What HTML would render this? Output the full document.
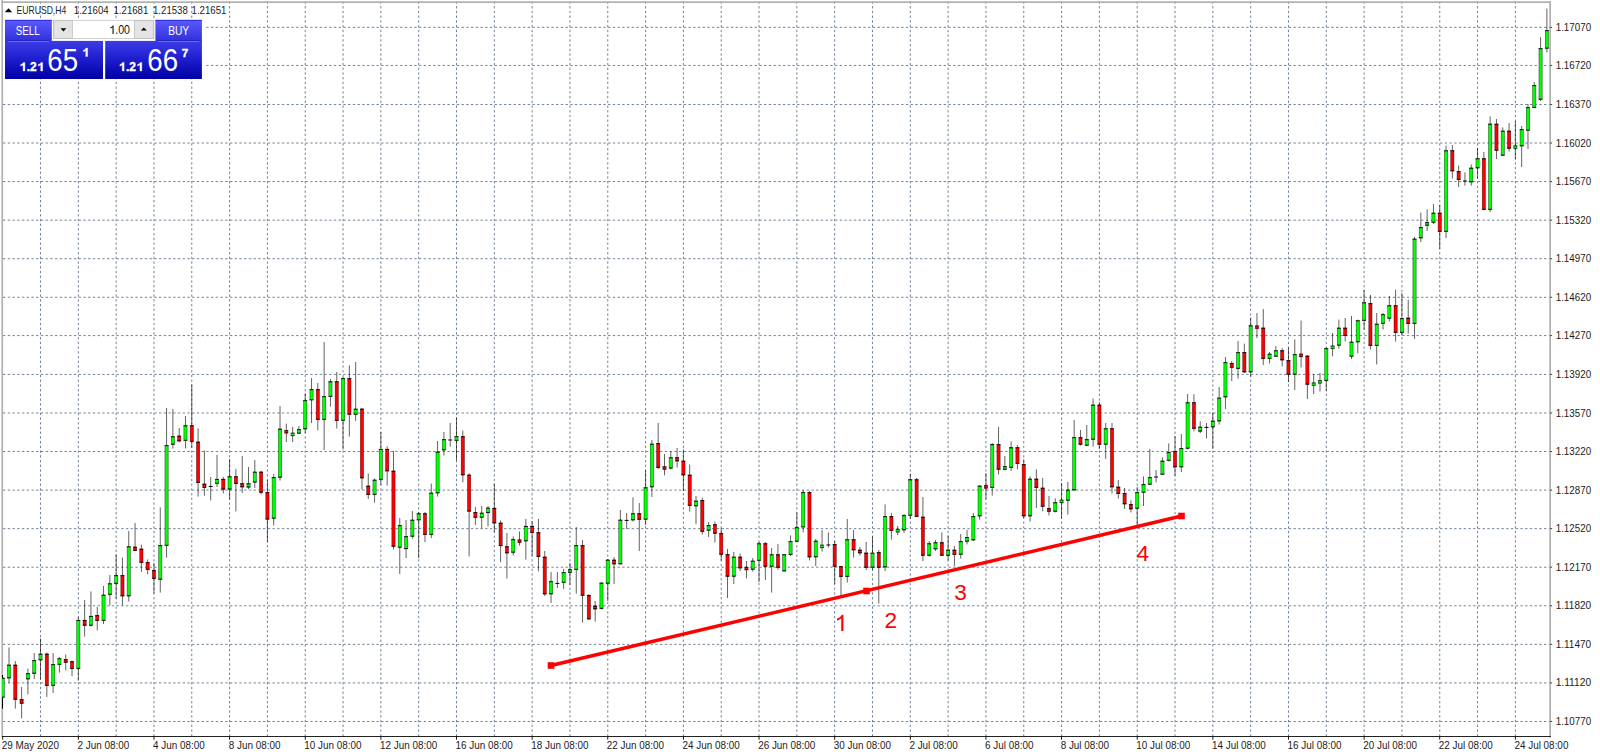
<!DOCTYPE html>
<html lang="en"><head><meta charset="utf-8"><title>EURUSD,H4</title>
<style>html,body{margin:0;padding:0;background:#fff;overflow:hidden}svg{display:block}text{font-family:"Liberation Sans",sans-serif}</style></head><body>
<svg width="1600" height="755" viewBox="0 0 1600 755">
<defs><clipPath id="cc"><rect x="2" y="2.6" width="1549" height="733.4"/></clipPath>
<linearGradient id="gb" x1="0" y1="0" x2="0" y2="1"><stop offset="0" stop-color="#5a5aff"/><stop offset="1" stop-color="#3030dc"/></linearGradient>
<linearGradient id="gp" x1="0" y1="0" x2="0" y2="1"><stop offset="0" stop-color="#3c3ce6"/><stop offset="0.5" stop-color="#1c1ccc"/><stop offset="1" stop-color="#0000a4"/></linearGradient>
</defs>
<rect width="1600" height="755" fill="#fff"/>
<g stroke="#718397" stroke-width="1" stroke-dasharray="2.3635 2.3635" fill="none">
<line x1="40.52" y1="1.41" x2="40.52" y2="736.5"/>
<line x1="78.33" y1="1.41" x2="78.33" y2="736.5"/>
<line x1="116.15" y1="1.41" x2="116.15" y2="736.5"/>
<line x1="153.97" y1="1.41" x2="153.97" y2="736.5"/>
<line x1="191.78" y1="1.41" x2="191.78" y2="736.5"/>
<line x1="229.60" y1="1.41" x2="229.60" y2="736.5"/>
<line x1="267.42" y1="1.41" x2="267.42" y2="736.5"/>
<line x1="305.24" y1="1.41" x2="305.24" y2="736.5"/>
<line x1="343.05" y1="1.41" x2="343.05" y2="736.5"/>
<line x1="380.87" y1="1.41" x2="380.87" y2="736.5"/>
<line x1="418.69" y1="1.41" x2="418.69" y2="736.5"/>
<line x1="456.50" y1="1.41" x2="456.50" y2="736.5"/>
<line x1="494.32" y1="1.41" x2="494.32" y2="736.5"/>
<line x1="532.14" y1="1.41" x2="532.14" y2="736.5"/>
<line x1="569.96" y1="1.41" x2="569.96" y2="736.5"/>
<line x1="607.77" y1="1.41" x2="607.77" y2="736.5"/>
<line x1="645.59" y1="1.41" x2="645.59" y2="736.5"/>
<line x1="683.41" y1="1.41" x2="683.41" y2="736.5"/>
<line x1="721.22" y1="1.41" x2="721.22" y2="736.5"/>
<line x1="759.04" y1="1.41" x2="759.04" y2="736.5"/>
<line x1="796.86" y1="1.41" x2="796.86" y2="736.5"/>
<line x1="834.67" y1="1.41" x2="834.67" y2="736.5"/>
<line x1="872.49" y1="1.41" x2="872.49" y2="736.5"/>
<line x1="910.31" y1="1.41" x2="910.31" y2="736.5"/>
<line x1="948.12" y1="1.41" x2="948.12" y2="736.5"/>
<line x1="985.94" y1="1.41" x2="985.94" y2="736.5"/>
<line x1="1023.76" y1="1.41" x2="1023.76" y2="736.5"/>
<line x1="1061.58" y1="1.41" x2="1061.58" y2="736.5"/>
<line x1="1099.39" y1="1.41" x2="1099.39" y2="736.5"/>
<line x1="1137.21" y1="1.41" x2="1137.21" y2="736.5"/>
<line x1="1175.03" y1="1.41" x2="1175.03" y2="736.5"/>
<line x1="1212.84" y1="1.41" x2="1212.84" y2="736.5"/>
<line x1="1250.66" y1="1.41" x2="1250.66" y2="736.5"/>
<line x1="1288.48" y1="1.41" x2="1288.48" y2="736.5"/>
<line x1="1326.30" y1="1.41" x2="1326.30" y2="736.5"/>
<line x1="1364.11" y1="1.41" x2="1364.11" y2="736.5"/>
<line x1="1401.93" y1="1.41" x2="1401.93" y2="736.5"/>
<line x1="1439.75" y1="1.41" x2="1439.75" y2="736.5"/>
<line x1="1477.56" y1="1.41" x2="1477.56" y2="736.5"/>
<line x1="1515.38" y1="1.41" x2="1515.38" y2="736.5"/>
<line x1="201.55" y1="27.34" x2="1550.0" y2="27.34"/>
<line x1="201.55" y1="65.45" x2="1550.0" y2="65.45"/>
<line x1="3.02" y1="104.47" x2="1550.0" y2="104.47"/>
<line x1="3.02" y1="143.03" x2="1550.0" y2="143.03"/>
<line x1="3.02" y1="181.59" x2="1550.0" y2="181.59"/>
<line x1="3.02" y1="220.16" x2="1550.0" y2="220.16"/>
<line x1="3.02" y1="258.72" x2="1550.0" y2="258.72"/>
<line x1="3.02" y1="297.28" x2="1550.0" y2="297.28"/>
<line x1="3.02" y1="335.59" x2="1550.0" y2="335.59"/>
<line x1="3.02" y1="374.41" x2="1550.0" y2="374.41"/>
<line x1="3.02" y1="412.97" x2="1550.0" y2="412.97"/>
<line x1="3.02" y1="451.53" x2="1550.0" y2="451.53"/>
<line x1="3.02" y1="490.10" x2="1550.0" y2="490.10"/>
<line x1="3.02" y1="528.66" x2="1550.0" y2="528.66"/>
<line x1="3.02" y1="567.22" x2="1550.0" y2="567.22"/>
<line x1="3.02" y1="605.79" x2="1550.0" y2="605.79"/>
<line x1="3.02" y1="644.35" x2="1550.0" y2="644.35"/>
<line x1="3.02" y1="682.91" x2="1550.0" y2="682.91"/>
<line x1="3.02" y1="721.47" x2="1550.0" y2="721.47"/>
</g>
<rect x="1.4" y="0" width="1.7" height="737.0" fill="#b0b0b0"/>
<rect x="1.4" y="1.3" width="1549.6" height="1.7" fill="#b0b0b0"/>
<rect x="1549.3" y="1" width="1.7" height="736.5" fill="#b0b0b0"/>
<rect x="2" y="736.0" width="1549.0" height="1" fill="#222"/>
<g stroke="#000" stroke-width="0.7" clip-path="url(#cc)">
<path d="M9.00 647.4V683.0M15.31 661.0V708.6M21.61 687.0V718.4M27.91 668.6V694.4M34.21 653.0V679.0M40.52 638.4V679.6M46.82 652.4V697.0M53.12 653.0V693.0M59.43 657.0V672.6M65.73 654.4V670.4M72.03 660.6V676.0M78.33 617.0V680.6M84.64 600.0V636.6M90.94 591.4V626.6M97.24 607.0V630.4M103.54 586.0V624.0M109.85 575.0V605.4M116.15 554.4V598.6M122.45 557.6V605.4M128.76 531.0V601.6M135.06 523.0V551.2M141.36 544.6V572.0M147.66 559.4V574.4M153.97 563.0V593.4M160.27 507.4V592.6M166.57 408.0V557.6M172.88 409.0V448.6M179.18 428.0V442.4M185.48 416.0V448.4M191.78 384.4V447.6M198.09 428.4V496.6M204.39 450.4V495.6M210.69 477.0V500.4M217.00 455.0V487.0M223.30 477.0V493.4M229.60 459.0V499.4M235.90 469.0V511.4M242.21 456.0V493.0M248.51 467.0V489.0M254.81 460.0V488.0M261.11 471.0V494.4M267.42 480.0V542.0M273.72 474.0V525.6M280.02 406.0V480.6M286.33 423.6V442.0M292.63 427.0V442.0M298.93 426.0V434.0M305.23 393.4V433.0M311.54 378.0V423.0M317.84 383.0V430.4M324.14 342.0V450.0M330.45 379.0V406.6M336.75 372.0V428.6M343.05 377.0V449.4M349.35 365.4V436.6M355.66 362.0V421.0M361.96 408.0V489.6M368.26 473.4V499.0M374.57 478.6V502.6M380.87 432.0V485.0M387.17 446.2V485.6M393.47 451.0V549.4M399.78 518.0V574.0M406.08 520.0V558.0M412.38 511.0V538.6M418.68 512.0V558.0M424.99 512.0V542.2M431.29 483.6V538.0M437.59 441.0V496.6M443.90 432.0V455.6M450.20 423.0V446.6M456.50 417.4V460.6M462.80 430.6V482.4M469.11 473.4V556.4M475.41 507.0V524.8M481.71 506.0V528.5M488.02 506.0V526.5M494.32 483.6V532.0M500.62 520.4V562.0M506.92 533.0V578.6M513.23 536.4V555.4M519.53 531.5V545.5M525.83 519.0V559.6M532.14 521.0V556.0M538.44 519.0V571.4M544.74 551.0V596.0M551.04 572.0V603.0M557.35 572.0V588.0M563.65 569.0V589.0M569.95 563.0V585.0M576.25 527.0V593.6M582.56 540.0V622.6M588.86 594.0V620.0M595.16 601.0V621.6M601.47 582.0V609.4M607.77 559.0V601.0M614.07 557.0V584.0M620.37 510.0V564.4M626.68 513.0V529.0M632.98 497.4V521.5M639.28 503.0V551.0M645.59 470.0V525.0M651.89 440.0V497.0M658.19 423.0V469.0M664.49 454.0V475.4M670.80 451.0V469.4M677.10 448.0V467.6M683.40 449.4V491.0M689.71 464.6V511.6M696.01 496.0V524.2M702.31 497.8V534.4M708.61 522.0V537.0M714.92 521.6V542.6M721.22 528.0V560.6M727.52 549.0V598.0M733.82 552.0V584.0M740.13 553.6V571.0M746.43 561.0V578.4M752.73 558.0V571.6M759.04 542.0V582.0M765.34 542.0V580.0M771.64 548.0V592.6M777.94 544.0V569.6M784.25 554.0V571.4M790.55 535.4V556.0M796.85 512.4V542.0M803.16 490.0V532.4M809.46 491.0V560.4M815.76 539.0V566.0M822.06 530.0V551.6M828.37 532.4V547.6M834.67 541.0V584.0M840.97 566.0V596.0M847.28 519.0V582.6M853.58 530.0V557.6M859.88 547.0V555.6M866.18 542.0V570.0M872.49 536.4V570.0M878.79 550.0V603.6M885.09 504.4V571.0M891.39 513.0V539.6M897.70 526.0V535.0M904.00 514.0V533.0M910.30 473.6V519.0M916.61 478.0V516.6M922.91 497.0V561.0M929.21 541.0V556.6M935.51 540.0V551.0M941.82 532.4V556.0M948.12 535.6V560.6M954.42 546.0V566.0M960.73 534.0V558.6M967.03 530.0V544.4M973.33 513.0V541.0M979.63 485.0V519.6M985.94 473.0V499.2M992.24 443.0V495.6M998.54 427.0V474.4M1004.85 456.0V470.4M1011.15 441.4V471.0M1017.45 445.0V469.4M1023.75 459.4V518.0M1030.06 476.4V521.6M1036.36 469.4V508.0M1042.66 478.0V511.4M1048.96 496.0V515.4M1055.27 498.4V512.4M1061.57 483.0V518.4M1067.87 482.0V514.6M1074.18 420.0V490.6M1080.48 430.0V445.6M1086.78 425.0V446.0M1093.08 398.6V446.6M1099.39 402.0V449.0M1105.69 423.0V459.0M1111.99 423.0V493.6M1118.30 480.0V498.6M1124.60 488.0V509.0M1130.90 500.4V512.4M1137.20 487.0V525.0M1143.51 476.4V506.0M1149.81 449.0V484.4M1156.11 470.0V482.4M1162.42 457.4V475.0M1168.72 443.4V461.4M1175.02 436.0V476.0M1181.32 434.0V472.0M1187.63 394.0V449.4M1193.93 394.2V431.4M1200.23 421.2V433.0M1206.53 423.0V438.4M1212.84 412.6V449.0M1219.14 387.0V424.6M1225.44 357.0V409.0M1231.75 361.0V381.0M1238.05 341.0V378.6M1244.35 343.6V373.0M1250.65 317.6V376.6M1256.96 313.0V338.0M1263.26 309.0V365.0M1269.56 352.0V363.4M1275.87 346.0V357.0M1282.17 348.0V366.6M1288.47 347.6V382.0M1294.77 339.4V390.0M1301.08 320.6V367.4M1307.38 355.0V399.0M1313.68 374.0V394.0M1319.99 373.0V391.6M1326.29 347.6V391.0M1332.59 333.0V356.4M1338.89 319.6V348.6M1345.20 318.0V341.4M1351.50 316.0V359.0M1357.80 319.6V353.4M1364.10 290.0V329.6M1370.41 295.0V349.6M1376.71 313.0V364.4M1383.01 313.0V329.6M1389.32 296.0V321.6M1395.62 289.6V341.6M1401.92 293.0V335.6M1408.22 299.6V333.6M1414.53 237.0V339.0M1420.83 212.6V242.0M1427.13 209.4V231.0M1433.44 204.0V224.0M1439.74 205.0V249.0M1446.04 145.6V238.0M1452.34 145.0V178.6M1458.65 165.6V187.0M1464.95 172.4V185.6M1471.25 164.4V185.6M1477.56 148.0V178.6M1483.86 152.0V210.4M1490.16 116.4V212.0M1496.46 119.0V159.0M1502.77 127.4V156.0M1509.07 123.0V151.6M1515.37 121.0V159.0M1521.67 126.0V167.0M1527.98 104.0V149.0M1534.28 82.0V108.0M1540.58 37.0V101.0M1546.89 8.6V52.4" fill="none" stroke-width="0.62"/>
<line x1="2.5" y1="675.0" x2="2.5" y2="708.6" stroke-width="1"/>
<rect x="1.08" y="677.95" width="3.24" height="19.50" fill="#00ff00" stroke-opacity="0.6" stroke-width="0.62"/>
<rect x="7.38" y="664.95" width="3.24" height="13.10" fill="#00ff00" stroke-opacity="0.6" stroke-width="0.62"/>
<rect x="13.69" y="664.95" width="3.24" height="34.50" fill="#ff0000" stroke-opacity="0.6" stroke-width="0.62"/>
<rect x="19.99" y="699.35" width="3.24" height="4.10" fill="#ff0000" stroke-opacity="0.6" stroke-width="0.62"/>
<rect x="26.29" y="673.35" width="3.24" height="5.70" fill="#00ff00" stroke-opacity="0.6" stroke-width="0.62"/>
<rect x="32.59" y="660.35" width="3.24" height="13.10" fill="#00ff00" stroke-opacity="0.6" stroke-width="0.62"/>
<rect x="38.90" y="653.95" width="3.24" height="6.10" fill="#00ff00" stroke-opacity="0.6" stroke-width="0.62"/>
<rect x="45.20" y="653.95" width="3.24" height="31.70" fill="#ff0000" stroke-opacity="0.6" stroke-width="0.62"/>
<rect x="51.50" y="664.35" width="3.24" height="21.30" fill="#00ff00" stroke-opacity="0.6" stroke-width="0.62"/>
<rect x="57.81" y="658.55" width="3.24" height="6.10" fill="#00ff00" stroke-opacity="0.6" stroke-width="0.62"/>
<rect x="64.11" y="659.35" width="3.24" height="3.10" fill="#ff0000" stroke-opacity="0.6" stroke-width="0.62"/>
<rect x="70.41" y="661.55" width="3.24" height="7.10" fill="#ff0000" stroke-opacity="0.6" stroke-width="0.62"/>
<rect x="76.71" y="620.15" width="3.24" height="48.50" fill="#00ff00" stroke-opacity="0.6" stroke-width="0.62"/>
<rect x="83.02" y="620.15" width="3.24" height="5.30" fill="#ff0000" stroke-opacity="0.6" stroke-width="0.62"/>
<rect x="89.32" y="616.15" width="3.24" height="9.30" fill="#00ff00" stroke-opacity="0.6" stroke-width="0.62"/>
<rect x="95.62" y="615.35" width="3.24" height="5.30" fill="#ff0000" stroke-opacity="0.6" stroke-width="0.62"/>
<rect x="101.92" y="594.95" width="3.24" height="25.70" fill="#00ff00" stroke-opacity="0.6" stroke-width="0.62"/>
<rect x="108.23" y="583.55" width="3.24" height="11.10" fill="#00ff00" stroke-opacity="0.6" stroke-width="0.62"/>
<rect x="114.53" y="575.35" width="3.24" height="8.30" fill="#00ff00" stroke-opacity="0.6" stroke-width="0.62"/>
<rect x="120.83" y="575.35" width="3.24" height="20.70" fill="#ff0000" stroke-opacity="0.6" stroke-width="0.62"/>
<rect x="127.14" y="546.55" width="3.24" height="49.50" fill="#00ff00" stroke-opacity="0.6" stroke-width="0.62"/>
<rect x="133.44" y="546.95" width="3.24" height="3.70" fill="#ff0000" stroke-opacity="0.6" stroke-width="0.62"/>
<rect x="139.74" y="548.95" width="3.24" height="13.70" fill="#ff0000" stroke-opacity="0.6" stroke-width="0.62"/>
<rect x="146.04" y="562.35" width="3.24" height="7.30" fill="#ff0000" stroke-opacity="0.6" stroke-width="0.62"/>
<rect x="152.35" y="570.35" width="3.24" height="8.30" fill="#ff0000" stroke-opacity="0.6" stroke-width="0.62"/>
<rect x="158.65" y="545.35" width="3.24" height="34.10" fill="#00ff00" stroke-opacity="0.6" stroke-width="0.62"/>
<rect x="164.95" y="445.35" width="3.24" height="100.30" fill="#00ff00" stroke-opacity="0.6" stroke-width="0.62"/>
<rect x="171.26" y="436.55" width="3.24" height="7.90" fill="#00ff00" stroke-opacity="0.6" stroke-width="0.62"/>
<rect x="177.56" y="435.95" width="3.24" height="5.10" fill="#ff0000" stroke-opacity="0.6" stroke-width="0.62"/>
<rect x="183.86" y="425.55" width="3.24" height="15.10" fill="#00ff00" stroke-opacity="0.6" stroke-width="0.62"/>
<rect x="190.16" y="425.55" width="3.24" height="16.10" fill="#ff0000" stroke-opacity="0.6" stroke-width="0.62"/>
<rect x="196.47" y="441.95" width="3.24" height="40.70" fill="#ff0000" stroke-opacity="0.6" stroke-width="0.62"/>
<rect x="202.77" y="483.95" width="3.24" height="3.70" fill="#ff0000" stroke-opacity="0.6" stroke-width="0.62"/>
<line x1="208.72" y1="486.4" x2="212.66" y2="486.4" stroke-width="1"/>
<rect x="215.38" y="479.15" width="3.24" height="4.50" fill="#00ff00" stroke-opacity="0.6" stroke-width="0.62"/>
<rect x="221.68" y="479.15" width="3.24" height="10.10" fill="#ff0000" stroke-opacity="0.6" stroke-width="0.62"/>
<rect x="227.98" y="476.55" width="3.24" height="12.70" fill="#00ff00" stroke-opacity="0.6" stroke-width="0.62"/>
<rect x="234.28" y="476.55" width="3.24" height="7.10" fill="#ff0000" stroke-opacity="0.6" stroke-width="0.62"/>
<rect x="240.59" y="483.55" width="3.24" height="3.50" fill="#ff0000" stroke-opacity="0.6" stroke-width="0.62"/>
<rect x="246.89" y="483.55" width="3.24" height="3.70" fill="#00ff00" stroke-opacity="0.6" stroke-width="0.62"/>
<rect x="253.19" y="471.95" width="3.24" height="10.30" fill="#00ff00" stroke-opacity="0.6" stroke-width="0.62"/>
<rect x="259.49" y="471.95" width="3.24" height="20.50" fill="#ff0000" stroke-opacity="0.6" stroke-width="0.62"/>
<rect x="265.80" y="492.35" width="3.24" height="26.90" fill="#ff0000" stroke-opacity="0.6" stroke-width="0.62"/>
<rect x="272.10" y="477.35" width="3.24" height="41.10" fill="#00ff00" stroke-opacity="0.6" stroke-width="0.62"/>
<rect x="278.40" y="428.95" width="3.24" height="48.50" fill="#00ff00" stroke-opacity="0.6" stroke-width="0.62"/>
<rect x="284.71" y="430.25" width="3.24" height="2.90" fill="#ff0000" stroke-opacity="0.6" stroke-width="0.62"/>
<rect x="291.01" y="432.95" width="3.24" height="2.90" fill="#00ff00" stroke-opacity="0.6" stroke-width="0.62"/>
<rect x="297.31" y="429.35" width="3.24" height="4.10" fill="#00ff00" stroke-opacity="0.6" stroke-width="0.62"/>
<rect x="303.61" y="400.35" width="3.24" height="28.70" fill="#00ff00" stroke-opacity="0.6" stroke-width="0.62"/>
<rect x="309.92" y="389.35" width="3.24" height="10.70" fill="#00ff00" stroke-opacity="0.6" stroke-width="0.62"/>
<rect x="316.22" y="389.35" width="3.24" height="30.30" fill="#ff0000" stroke-opacity="0.6" stroke-width="0.62"/>
<rect x="322.52" y="396.35" width="3.24" height="23.30" fill="#00ff00" stroke-opacity="0.6" stroke-width="0.62"/>
<rect x="328.83" y="381.55" width="3.24" height="15.10" fill="#00ff00" stroke-opacity="0.6" stroke-width="0.62"/>
<rect x="335.13" y="381.55" width="3.24" height="39.10" fill="#ff0000" stroke-opacity="0.6" stroke-width="0.62"/>
<rect x="341.43" y="378.35" width="3.24" height="42.30" fill="#00ff00" stroke-opacity="0.6" stroke-width="0.62"/>
<rect x="347.73" y="378.35" width="3.24" height="36.10" fill="#ff0000" stroke-opacity="0.6" stroke-width="0.62"/>
<rect x="354.04" y="408.95" width="3.24" height="5.50" fill="#00ff00" stroke-opacity="0.6" stroke-width="0.62"/>
<rect x="360.34" y="408.95" width="3.24" height="69.10" fill="#ff0000" stroke-opacity="0.6" stroke-width="0.62"/>
<rect x="366.64" y="485.95" width="3.24" height="8.70" fill="#ff0000" stroke-opacity="0.6" stroke-width="0.62"/>
<rect x="372.95" y="479.95" width="3.24" height="14.70" fill="#00ff00" stroke-opacity="0.6" stroke-width="0.62"/>
<rect x="379.25" y="449.15" width="3.24" height="30.50" fill="#00ff00" stroke-opacity="0.6" stroke-width="0.62"/>
<rect x="385.55" y="449.15" width="3.24" height="21.90" fill="#ff0000" stroke-opacity="0.6" stroke-width="0.62"/>
<rect x="391.85" y="470.95" width="3.24" height="75.50" fill="#ff0000" stroke-opacity="0.6" stroke-width="0.62"/>
<rect x="398.16" y="525.35" width="3.24" height="22.10" fill="#00ff00" stroke-opacity="0.6" stroke-width="0.62"/>
<rect x="404.46" y="536.35" width="3.24" height="12.50" fill="#00ff00" stroke-opacity="0.6" stroke-width="0.62"/>
<rect x="410.76" y="519.95" width="3.24" height="16.50" fill="#00ff00" stroke-opacity="0.6" stroke-width="0.62"/>
<rect x="417.06" y="513.55" width="3.24" height="6.50" fill="#00ff00" stroke-opacity="0.6" stroke-width="0.62"/>
<rect x="423.37" y="513.55" width="3.24" height="21.10" fill="#ff0000" stroke-opacity="0.6" stroke-width="0.62"/>
<rect x="429.67" y="492.95" width="3.24" height="41.70" fill="#00ff00" stroke-opacity="0.6" stroke-width="0.62"/>
<rect x="435.97" y="451.95" width="3.24" height="41.10" fill="#00ff00" stroke-opacity="0.6" stroke-width="0.62"/>
<rect x="442.28" y="439.35" width="3.24" height="10.70" fill="#00ff00" stroke-opacity="0.6" stroke-width="0.62"/>
<line x1="448.23" y1="440.0" x2="452.17" y2="440.0" stroke-width="1"/>
<rect x="454.88" y="436.35" width="3.24" height="4.30" fill="#00ff00" stroke-opacity="0.6" stroke-width="0.62"/>
<rect x="461.18" y="436.35" width="3.24" height="38.70" fill="#ff0000" stroke-opacity="0.6" stroke-width="0.62"/>
<rect x="467.49" y="474.95" width="3.24" height="36.30" fill="#ff0000" stroke-opacity="0.6" stroke-width="0.62"/>
<rect x="473.79" y="512.35" width="3.24" height="5.20" fill="#ff0000" stroke-opacity="0.6" stroke-width="0.62"/>
<rect x="480.09" y="512.95" width="3.24" height="4.60" fill="#00ff00" stroke-opacity="0.6" stroke-width="0.62"/>
<rect x="486.40" y="507.95" width="3.24" height="4.90" fill="#00ff00" stroke-opacity="0.6" stroke-width="0.62"/>
<rect x="492.70" y="508.15" width="3.24" height="14.90" fill="#ff0000" stroke-opacity="0.6" stroke-width="0.62"/>
<rect x="499.00" y="522.95" width="3.24" height="22.90" fill="#ff0000" stroke-opacity="0.6" stroke-width="0.62"/>
<rect x="505.30" y="546.55" width="3.24" height="6.50" fill="#ff0000" stroke-opacity="0.6" stroke-width="0.62"/>
<rect x="511.61" y="539.35" width="3.24" height="13.10" fill="#00ff00" stroke-opacity="0.6" stroke-width="0.62"/>
<rect x="517.91" y="539.75" width="3.24" height="2.90" fill="#ff0000" stroke-opacity="0.6" stroke-width="0.62"/>
<rect x="524.21" y="526.15" width="3.24" height="14.90" fill="#00ff00" stroke-opacity="0.6" stroke-width="0.62"/>
<rect x="530.52" y="526.15" width="3.24" height="6.50" fill="#ff0000" stroke-opacity="0.6" stroke-width="0.62"/>
<rect x="536.82" y="532.45" width="3.24" height="24.20" fill="#ff0000" stroke-opacity="0.6" stroke-width="0.62"/>
<rect x="543.12" y="556.95" width="3.24" height="37.10" fill="#ff0000" stroke-opacity="0.6" stroke-width="0.62"/>
<rect x="549.42" y="581.35" width="3.24" height="12.70" fill="#00ff00" stroke-opacity="0.6" stroke-width="0.62"/>
<line x1="555.38" y1="583.4" x2="559.32" y2="583.4" stroke-width="1"/>
<rect x="562.03" y="572.35" width="3.24" height="10.30" fill="#00ff00" stroke-opacity="0.6" stroke-width="0.62"/>
<rect x="568.33" y="569.55" width="3.24" height="3.10" fill="#00ff00" stroke-opacity="0.6" stroke-width="0.62"/>
<rect x="574.63" y="545.35" width="3.24" height="24.30" fill="#00ff00" stroke-opacity="0.6" stroke-width="0.62"/>
<rect x="580.94" y="545.35" width="3.24" height="50.10" fill="#ff0000" stroke-opacity="0.6" stroke-width="0.62"/>
<rect x="587.24" y="595.35" width="3.24" height="23.70" fill="#ff0000" stroke-opacity="0.6" stroke-width="0.62"/>
<rect x="593.54" y="605.95" width="3.24" height="3.10" fill="#ff0000" stroke-opacity="0.6" stroke-width="0.62"/>
<rect x="599.85" y="582.95" width="3.24" height="25.70" fill="#00ff00" stroke-opacity="0.6" stroke-width="0.62"/>
<rect x="606.15" y="559.95" width="3.24" height="23.50" fill="#00ff00" stroke-opacity="0.6" stroke-width="0.62"/>
<rect x="612.45" y="559.95" width="3.24" height="4.10" fill="#ff0000" stroke-opacity="0.6" stroke-width="0.62"/>
<rect x="618.75" y="519.95" width="3.24" height="44.10" fill="#00ff00" stroke-opacity="0.6" stroke-width="0.62"/>
<line x1="624.71" y1="520.4" x2="628.65" y2="520.4" stroke-width="1"/>
<rect x="631.36" y="513.55" width="3.24" height="6.50" fill="#00ff00" stroke-opacity="0.6" stroke-width="0.62"/>
<rect x="637.66" y="513.55" width="3.24" height="5.90" fill="#ff0000" stroke-opacity="0.6" stroke-width="0.62"/>
<rect x="643.97" y="487.55" width="3.24" height="31.90" fill="#00ff00" stroke-opacity="0.6" stroke-width="0.62"/>
<rect x="650.27" y="443.95" width="3.24" height="43.10" fill="#00ff00" stroke-opacity="0.6" stroke-width="0.62"/>
<rect x="656.57" y="443.35" width="3.24" height="24.30" fill="#ff0000" stroke-opacity="0.6" stroke-width="0.62"/>
<rect x="662.87" y="466.55" width="3.24" height="2.90" fill="#ff0000" stroke-opacity="0.6" stroke-width="0.62"/>
<rect x="669.18" y="457.55" width="3.24" height="10.70" fill="#00ff00" stroke-opacity="0.6" stroke-width="0.62"/>
<rect x="675.48" y="457.55" width="3.24" height="3.50" fill="#ff0000" stroke-opacity="0.6" stroke-width="0.62"/>
<rect x="681.78" y="460.95" width="3.24" height="14.10" fill="#ff0000" stroke-opacity="0.6" stroke-width="0.62"/>
<rect x="688.09" y="474.95" width="3.24" height="30.70" fill="#ff0000" stroke-opacity="0.6" stroke-width="0.62"/>
<rect x="694.39" y="500.95" width="3.24" height="5.10" fill="#00ff00" stroke-opacity="0.6" stroke-width="0.62"/>
<rect x="700.69" y="500.35" width="3.24" height="31.20" fill="#ff0000" stroke-opacity="0.6" stroke-width="0.62"/>
<rect x="706.99" y="525.35" width="3.24" height="5.10" fill="#00ff00" stroke-opacity="0.6" stroke-width="0.62"/>
<rect x="713.30" y="524.55" width="3.24" height="8.90" fill="#ff0000" stroke-opacity="0.6" stroke-width="0.62"/>
<rect x="719.60" y="533.35" width="3.24" height="21.10" fill="#ff0000" stroke-opacity="0.6" stroke-width="0.62"/>
<rect x="725.90" y="554.35" width="3.24" height="22.10" fill="#ff0000" stroke-opacity="0.6" stroke-width="0.62"/>
<rect x="732.20" y="556.95" width="3.24" height="19.50" fill="#00ff00" stroke-opacity="0.6" stroke-width="0.62"/>
<rect x="738.51" y="556.95" width="3.24" height="11.10" fill="#ff0000" stroke-opacity="0.6" stroke-width="0.62"/>
<rect x="744.81" y="567.05" width="3.24" height="2.90" fill="#ff0000" stroke-opacity="0.6" stroke-width="0.62"/>
<rect x="751.11" y="560.95" width="3.24" height="8.50" fill="#00ff00" stroke-opacity="0.6" stroke-width="0.62"/>
<rect x="757.42" y="543.55" width="3.24" height="17.10" fill="#00ff00" stroke-opacity="0.6" stroke-width="0.62"/>
<rect x="763.72" y="543.55" width="3.24" height="22.90" fill="#ff0000" stroke-opacity="0.6" stroke-width="0.62"/>
<rect x="770.02" y="554.55" width="3.24" height="11.90" fill="#00ff00" stroke-opacity="0.6" stroke-width="0.62"/>
<rect x="776.32" y="554.55" width="3.24" height="12.90" fill="#ff0000" stroke-opacity="0.6" stroke-width="0.62"/>
<rect x="782.63" y="554.55" width="3.24" height="16.50" fill="#00ff00" stroke-opacity="0.6" stroke-width="0.62"/>
<rect x="788.93" y="541.35" width="3.24" height="13.30" fill="#00ff00" stroke-opacity="0.6" stroke-width="0.62"/>
<rect x="795.23" y="527.35" width="3.24" height="14.10" fill="#00ff00" stroke-opacity="0.6" stroke-width="0.62"/>
<rect x="801.54" y="492.35" width="3.24" height="34.70" fill="#00ff00" stroke-opacity="0.6" stroke-width="0.62"/>
<rect x="807.84" y="492.35" width="3.24" height="64.70" fill="#ff0000" stroke-opacity="0.6" stroke-width="0.62"/>
<rect x="814.14" y="540.95" width="3.24" height="16.10" fill="#00ff00" stroke-opacity="0.6" stroke-width="0.62"/>
<rect x="820.44" y="544.95" width="3.24" height="2.90" fill="#00ff00" stroke-opacity="0.6" stroke-width="0.62"/>
<line x1="826.40" y1="545.0" x2="830.34" y2="545.0" stroke-width="1"/>
<rect x="833.05" y="544.35" width="3.24" height="22.10" fill="#ff0000" stroke-opacity="0.6" stroke-width="0.62"/>
<rect x="839.35" y="566.35" width="3.24" height="10.30" fill="#ff0000" stroke-opacity="0.6" stroke-width="0.62"/>
<rect x="845.66" y="539.55" width="3.24" height="37.10" fill="#00ff00" stroke-opacity="0.6" stroke-width="0.62"/>
<rect x="851.96" y="539.55" width="3.24" height="10.50" fill="#ff0000" stroke-opacity="0.6" stroke-width="0.62"/>
<rect x="858.26" y="549.95" width="3.24" height="3.10" fill="#ff0000" stroke-opacity="0.6" stroke-width="0.62"/>
<rect x="864.56" y="552.95" width="3.24" height="14.50" fill="#ff0000" stroke-opacity="0.6" stroke-width="0.62"/>
<rect x="870.87" y="552.95" width="3.24" height="14.50" fill="#00ff00" stroke-opacity="0.6" stroke-width="0.62"/>
<rect x="877.17" y="552.35" width="3.24" height="15.10" fill="#ff0000" stroke-opacity="0.6" stroke-width="0.62"/>
<rect x="883.47" y="516.35" width="3.24" height="50.70" fill="#00ff00" stroke-opacity="0.6" stroke-width="0.62"/>
<rect x="889.77" y="516.35" width="3.24" height="14.30" fill="#ff0000" stroke-opacity="0.6" stroke-width="0.62"/>
<rect x="896.08" y="529.25" width="3.24" height="2.90" fill="#00ff00" stroke-opacity="0.6" stroke-width="0.62"/>
<rect x="902.38" y="515.35" width="3.24" height="14.70" fill="#00ff00" stroke-opacity="0.6" stroke-width="0.62"/>
<rect x="908.68" y="479.55" width="3.24" height="35.90" fill="#00ff00" stroke-opacity="0.6" stroke-width="0.62"/>
<rect x="914.99" y="479.55" width="3.24" height="37.10" fill="#ff0000" stroke-opacity="0.6" stroke-width="0.62"/>
<rect x="921.29" y="516.95" width="3.24" height="38.50" fill="#ff0000" stroke-opacity="0.6" stroke-width="0.62"/>
<rect x="927.59" y="543.55" width="3.24" height="11.90" fill="#00ff00" stroke-opacity="0.6" stroke-width="0.62"/>
<rect x="933.89" y="542.55" width="3.24" height="6.50" fill="#00ff00" stroke-opacity="0.6" stroke-width="0.62"/>
<rect x="940.20" y="542.55" width="3.24" height="12.90" fill="#ff0000" stroke-opacity="0.6" stroke-width="0.62"/>
<rect x="946.50" y="549.95" width="3.24" height="5.50" fill="#00ff00" stroke-opacity="0.6" stroke-width="0.62"/>
<rect x="952.80" y="549.95" width="3.24" height="4.70" fill="#ff0000" stroke-opacity="0.6" stroke-width="0.62"/>
<rect x="959.11" y="541.35" width="3.24" height="13.10" fill="#00ff00" stroke-opacity="0.6" stroke-width="0.62"/>
<rect x="965.41" y="537.35" width="3.24" height="4.10" fill="#00ff00" stroke-opacity="0.6" stroke-width="0.62"/>
<rect x="971.71" y="516.35" width="3.24" height="23.70" fill="#00ff00" stroke-opacity="0.6" stroke-width="0.62"/>
<rect x="978.01" y="485.95" width="3.24" height="30.10" fill="#00ff00" stroke-opacity="0.6" stroke-width="0.62"/>
<rect x="984.32" y="485.35" width="3.24" height="2.90" fill="#ff0000" stroke-opacity="0.6" stroke-width="0.62"/>
<rect x="990.62" y="444.35" width="3.24" height="43.30" fill="#00ff00" stroke-opacity="0.6" stroke-width="0.62"/>
<rect x="996.92" y="444.35" width="3.24" height="25.10" fill="#ff0000" stroke-opacity="0.6" stroke-width="0.62"/>
<rect x="1003.23" y="466.35" width="3.24" height="3.10" fill="#00ff00" stroke-opacity="0.6" stroke-width="0.62"/>
<rect x="1009.53" y="447.55" width="3.24" height="20.10" fill="#00ff00" stroke-opacity="0.6" stroke-width="0.62"/>
<rect x="1015.83" y="447.55" width="3.24" height="16.10" fill="#ff0000" stroke-opacity="0.6" stroke-width="0.62"/>
<rect x="1022.13" y="464.35" width="3.24" height="51.70" fill="#ff0000" stroke-opacity="0.6" stroke-width="0.62"/>
<rect x="1028.44" y="478.95" width="3.24" height="37.10" fill="#00ff00" stroke-opacity="0.6" stroke-width="0.62"/>
<rect x="1034.74" y="478.95" width="3.24" height="8.70" fill="#ff0000" stroke-opacity="0.6" stroke-width="0.62"/>
<rect x="1041.04" y="487.95" width="3.24" height="18.50" fill="#ff0000" stroke-opacity="0.6" stroke-width="0.62"/>
<rect x="1047.34" y="508.35" width="3.24" height="3.10" fill="#ff0000" stroke-opacity="0.6" stroke-width="0.62"/>
<rect x="1053.65" y="502.55" width="3.24" height="8.90" fill="#00ff00" stroke-opacity="0.6" stroke-width="0.62"/>
<rect x="1059.95" y="499.95" width="3.24" height="2.90" fill="#00ff00" stroke-opacity="0.6" stroke-width="0.62"/>
<rect x="1066.25" y="489.95" width="3.24" height="10.50" fill="#00ff00" stroke-opacity="0.6" stroke-width="0.62"/>
<rect x="1072.56" y="437.35" width="3.24" height="52.70" fill="#00ff00" stroke-opacity="0.6" stroke-width="0.62"/>
<rect x="1078.86" y="437.35" width="3.24" height="7.10" fill="#ff0000" stroke-opacity="0.6" stroke-width="0.62"/>
<rect x="1085.16" y="439.35" width="3.24" height="6.10" fill="#00ff00" stroke-opacity="0.6" stroke-width="0.62"/>
<rect x="1091.46" y="404.95" width="3.24" height="34.50" fill="#00ff00" stroke-opacity="0.6" stroke-width="0.62"/>
<rect x="1097.77" y="404.95" width="3.24" height="39.50" fill="#ff0000" stroke-opacity="0.6" stroke-width="0.62"/>
<rect x="1104.07" y="428.55" width="3.24" height="15.90" fill="#00ff00" stroke-opacity="0.6" stroke-width="0.62"/>
<rect x="1110.37" y="428.55" width="3.24" height="58.50" fill="#ff0000" stroke-opacity="0.6" stroke-width="0.62"/>
<rect x="1116.68" y="486.95" width="3.24" height="6.70" fill="#ff0000" stroke-opacity="0.6" stroke-width="0.62"/>
<rect x="1122.98" y="493.35" width="3.24" height="10.70" fill="#ff0000" stroke-opacity="0.6" stroke-width="0.62"/>
<rect x="1129.28" y="504.35" width="3.24" height="4.70" fill="#ff0000" stroke-opacity="0.6" stroke-width="0.62"/>
<rect x="1135.58" y="492.35" width="3.24" height="16.10" fill="#00ff00" stroke-opacity="0.6" stroke-width="0.62"/>
<rect x="1141.89" y="484.35" width="3.24" height="8.10" fill="#00ff00" stroke-opacity="0.6" stroke-width="0.62"/>
<rect x="1148.19" y="477.35" width="3.24" height="7.10" fill="#00ff00" stroke-opacity="0.6" stroke-width="0.62"/>
<line x1="1154.14" y1="477.0" x2="1158.08" y2="477.0" stroke-width="1"/>
<rect x="1160.80" y="460.95" width="3.24" height="13.50" fill="#00ff00" stroke-opacity="0.6" stroke-width="0.62"/>
<rect x="1167.10" y="452.35" width="3.24" height="8.30" fill="#00ff00" stroke-opacity="0.6" stroke-width="0.62"/>
<rect x="1173.40" y="451.35" width="3.24" height="15.70" fill="#ff0000" stroke-opacity="0.6" stroke-width="0.62"/>
<rect x="1179.70" y="448.35" width="3.24" height="18.70" fill="#00ff00" stroke-opacity="0.6" stroke-width="0.62"/>
<rect x="1186.01" y="402.55" width="3.24" height="45.90" fill="#00ff00" stroke-opacity="0.6" stroke-width="0.62"/>
<rect x="1192.31" y="402.55" width="3.24" height="26.00" fill="#ff0000" stroke-opacity="0.6" stroke-width="0.62"/>
<rect x="1198.61" y="426.95" width="3.24" height="4.30" fill="#00ff00" stroke-opacity="0.6" stroke-width="0.62"/>
<line x1="1204.56" y1="427.4" x2="1208.50" y2="427.4" stroke-width="1"/>
<rect x="1211.22" y="420.95" width="3.24" height="6.10" fill="#00ff00" stroke-opacity="0.6" stroke-width="0.62"/>
<rect x="1217.52" y="397.95" width="3.24" height="23.10" fill="#00ff00" stroke-opacity="0.6" stroke-width="0.62"/>
<rect x="1223.82" y="362.35" width="3.24" height="34.70" fill="#00ff00" stroke-opacity="0.6" stroke-width="0.62"/>
<rect x="1230.13" y="363.35" width="3.24" height="4.10" fill="#ff0000" stroke-opacity="0.6" stroke-width="0.62"/>
<rect x="1236.43" y="352.35" width="3.24" height="16.30" fill="#00ff00" stroke-opacity="0.6" stroke-width="0.62"/>
<rect x="1242.73" y="352.35" width="3.24" height="19.70" fill="#ff0000" stroke-opacity="0.6" stroke-width="0.62"/>
<rect x="1249.03" y="325.55" width="3.24" height="46.50" fill="#00ff00" stroke-opacity="0.6" stroke-width="0.62"/>
<rect x="1255.34" y="325.75" width="3.24" height="2.90" fill="#ff0000" stroke-opacity="0.6" stroke-width="0.62"/>
<rect x="1261.64" y="327.95" width="3.24" height="30.70" fill="#ff0000" stroke-opacity="0.6" stroke-width="0.62"/>
<rect x="1267.94" y="353.95" width="3.24" height="4.70" fill="#00ff00" stroke-opacity="0.6" stroke-width="0.62"/>
<rect x="1274.25" y="350.55" width="3.24" height="5.90" fill="#00ff00" stroke-opacity="0.6" stroke-width="0.62"/>
<rect x="1280.55" y="350.55" width="3.24" height="9.50" fill="#ff0000" stroke-opacity="0.6" stroke-width="0.62"/>
<rect x="1286.85" y="360.35" width="3.24" height="14.10" fill="#ff0000" stroke-opacity="0.6" stroke-width="0.62"/>
<rect x="1293.15" y="354.35" width="3.24" height="20.10" fill="#00ff00" stroke-opacity="0.6" stroke-width="0.62"/>
<rect x="1299.46" y="353.95" width="3.24" height="2.90" fill="#ff0000" stroke-opacity="0.6" stroke-width="0.62"/>
<rect x="1305.76" y="355.95" width="3.24" height="28.50" fill="#ff0000" stroke-opacity="0.6" stroke-width="0.62"/>
<rect x="1312.06" y="382.75" width="3.24" height="2.90" fill="#00ff00" stroke-opacity="0.6" stroke-width="0.62"/>
<rect x="1318.37" y="380.35" width="3.24" height="2.90" fill="#00ff00" stroke-opacity="0.6" stroke-width="0.62"/>
<rect x="1324.67" y="348.35" width="3.24" height="32.30" fill="#00ff00" stroke-opacity="0.6" stroke-width="0.62"/>
<rect x="1330.97" y="345.85" width="3.24" height="2.90" fill="#00ff00" stroke-opacity="0.6" stroke-width="0.62"/>
<rect x="1337.27" y="327.95" width="3.24" height="17.50" fill="#00ff00" stroke-opacity="0.6" stroke-width="0.62"/>
<rect x="1343.58" y="327.95" width="3.24" height="7.70" fill="#ff0000" stroke-opacity="0.6" stroke-width="0.62"/>
<rect x="1349.88" y="341.95" width="3.24" height="14.50" fill="#00ff00" stroke-opacity="0.6" stroke-width="0.62"/>
<rect x="1356.18" y="320.55" width="3.24" height="21.50" fill="#00ff00" stroke-opacity="0.6" stroke-width="0.62"/>
<rect x="1362.48" y="302.55" width="3.24" height="18.10" fill="#00ff00" stroke-opacity="0.6" stroke-width="0.62"/>
<rect x="1368.79" y="303.35" width="3.24" height="42.30" fill="#ff0000" stroke-opacity="0.6" stroke-width="0.62"/>
<rect x="1375.09" y="323.95" width="3.24" height="21.70" fill="#00ff00" stroke-opacity="0.6" stroke-width="0.62"/>
<rect x="1381.39" y="314.35" width="3.24" height="9.30" fill="#00ff00" stroke-opacity="0.6" stroke-width="0.62"/>
<rect x="1387.70" y="305.55" width="3.24" height="12.90" fill="#00ff00" stroke-opacity="0.6" stroke-width="0.62"/>
<rect x="1394.00" y="305.55" width="3.24" height="27.10" fill="#ff0000" stroke-opacity="0.6" stroke-width="0.62"/>
<rect x="1400.30" y="318.35" width="3.24" height="14.30" fill="#00ff00" stroke-opacity="0.6" stroke-width="0.62"/>
<rect x="1406.60" y="317.95" width="3.24" height="5.70" fill="#ff0000" stroke-opacity="0.6" stroke-width="0.62"/>
<rect x="1412.91" y="238.95" width="3.24" height="84.70" fill="#00ff00" stroke-opacity="0.6" stroke-width="0.62"/>
<rect x="1419.21" y="227.35" width="3.24" height="10.70" fill="#00ff00" stroke-opacity="0.6" stroke-width="0.62"/>
<rect x="1425.51" y="222.35" width="3.24" height="3.10" fill="#00ff00" stroke-opacity="0.6" stroke-width="0.62"/>
<rect x="1431.82" y="212.95" width="3.24" height="9.50" fill="#00ff00" stroke-opacity="0.6" stroke-width="0.62"/>
<rect x="1438.12" y="212.95" width="3.24" height="18.70" fill="#ff0000" stroke-opacity="0.6" stroke-width="0.62"/>
<rect x="1444.42" y="150.55" width="3.24" height="81.10" fill="#00ff00" stroke-opacity="0.6" stroke-width="0.62"/>
<rect x="1450.72" y="150.55" width="3.24" height="20.50" fill="#ff0000" stroke-opacity="0.6" stroke-width="0.62"/>
<rect x="1457.03" y="171.35" width="3.24" height="8.30" fill="#ff0000" stroke-opacity="0.6" stroke-width="0.62"/>
<line x1="1462.98" y1="181.0" x2="1466.92" y2="181.0" stroke-width="1"/>
<rect x="1469.63" y="167.95" width="3.24" height="14.10" fill="#00ff00" stroke-opacity="0.6" stroke-width="0.62"/>
<rect x="1475.94" y="158.55" width="3.24" height="9.50" fill="#00ff00" stroke-opacity="0.6" stroke-width="0.62"/>
<rect x="1482.24" y="158.55" width="3.24" height="51.10" fill="#ff0000" stroke-opacity="0.6" stroke-width="0.62"/>
<rect x="1488.54" y="123.95" width="3.24" height="85.70" fill="#00ff00" stroke-opacity="0.6" stroke-width="0.62"/>
<rect x="1494.84" y="123.95" width="3.24" height="26.50" fill="#ff0000" stroke-opacity="0.6" stroke-width="0.62"/>
<rect x="1501.15" y="130.95" width="3.24" height="24.50" fill="#00ff00" stroke-opacity="0.6" stroke-width="0.62"/>
<rect x="1507.45" y="130.95" width="3.24" height="17.50" fill="#ff0000" stroke-opacity="0.6" stroke-width="0.62"/>
<rect x="1513.75" y="145.75" width="3.24" height="2.90" fill="#00ff00" stroke-opacity="0.6" stroke-width="0.62"/>
<rect x="1520.05" y="129.35" width="3.24" height="16.70" fill="#00ff00" stroke-opacity="0.6" stroke-width="0.62"/>
<rect x="1526.36" y="107.35" width="3.24" height="23.10" fill="#00ff00" stroke-opacity="0.6" stroke-width="0.62"/>
<rect x="1532.66" y="85.35" width="3.24" height="22.30" fill="#00ff00" stroke-opacity="0.6" stroke-width="0.62"/>
<rect x="1538.96" y="48.35" width="3.24" height="51.10" fill="#00ff00" stroke-opacity="0.6" stroke-width="0.62"/>
<rect x="1545.27" y="30.35" width="3.24" height="18.10" fill="#00ff00" stroke-opacity="0.6" stroke-width="0.62"/>
<path d="M0.77 678.30h3.86M0.77 697.10h3.86M7.07 665.30h3.86M7.07 677.70h3.86M13.38 665.30h3.86M13.38 699.10h3.86M19.68 699.70h3.86M19.68 703.10h3.86M25.98 673.70h3.86M25.98 678.70h3.86M32.28 660.70h3.86M32.28 673.10h3.86M38.59 654.30h3.86M38.59 659.70h3.86M44.89 654.30h3.86M44.89 685.30h3.86M51.19 664.70h3.86M51.19 685.30h3.86M57.50 658.90h3.86M57.50 664.30h3.86M63.80 659.70h3.86M63.80 662.10h3.86M70.10 661.90h3.86M70.10 668.30h3.86M76.40 620.50h3.86M76.40 668.30h3.86M82.71 620.50h3.86M82.71 625.10h3.86M89.01 616.50h3.86M89.01 625.10h3.86M95.31 615.70h3.86M95.31 620.30h3.86M101.61 595.30h3.86M101.61 620.30h3.86M107.92 583.90h3.86M107.92 594.30h3.86M114.22 575.70h3.86M114.22 583.30h3.86M120.52 575.70h3.86M120.52 595.70h3.86M126.83 546.90h3.86M126.83 595.70h3.86M133.13 547.30h3.86M133.13 550.30h3.86M139.43 549.30h3.86M139.43 562.30h3.86M145.73 562.70h3.86M145.73 569.30h3.86M152.04 570.70h3.86M152.04 578.30h3.86M158.34 545.70h3.86M158.34 579.10h3.86M164.64 445.70h3.86M164.64 545.30h3.86M170.95 436.90h3.86M170.95 444.10h3.86M177.25 436.30h3.86M177.25 440.70h3.86M183.55 425.90h3.86M183.55 440.30h3.86M189.85 425.90h3.86M189.85 441.30h3.86M196.16 442.30h3.86M196.16 482.30h3.86M202.46 484.30h3.86M202.46 487.30h3.86M215.07 479.50h3.86M215.07 483.30h3.86M221.37 479.50h3.86M221.37 488.90h3.86M227.67 476.90h3.86M227.67 488.90h3.86M233.97 476.90h3.86M233.97 483.30h3.86M240.28 483.90h3.86M240.28 486.70h3.86M246.58 483.90h3.86M246.58 486.90h3.86M252.88 472.30h3.86M252.88 481.90h3.86M259.18 472.30h3.86M259.18 492.10h3.86M265.49 492.70h3.86M265.49 518.90h3.86M271.79 477.70h3.86M271.79 518.10h3.86M278.09 429.30h3.86M278.09 477.10h3.86M297.00 429.70h3.86M297.00 433.10h3.86M303.30 400.70h3.86M303.30 428.70h3.86M309.61 389.70h3.86M309.61 399.70h3.86M315.91 389.70h3.86M315.91 419.30h3.86M322.21 396.70h3.86M322.21 419.30h3.86M328.52 381.90h3.86M328.52 396.30h3.86M334.82 381.90h3.86M334.82 420.30h3.86M341.12 378.70h3.86M341.12 420.30h3.86M347.42 378.70h3.86M347.42 414.10h3.86M353.73 409.30h3.86M353.73 414.10h3.86M360.03 409.30h3.86M360.03 477.70h3.86M366.33 486.30h3.86M366.33 494.30h3.86M372.64 480.30h3.86M372.64 494.30h3.86M378.94 449.50h3.86M378.94 479.30h3.86M385.24 449.50h3.86M385.24 470.70h3.86M391.54 471.30h3.86M391.54 546.10h3.86M397.85 525.70h3.86M397.85 547.10h3.86M404.15 536.70h3.86M404.15 548.50h3.86M410.45 520.30h3.86M410.45 536.10h3.86M416.75 513.90h3.86M416.75 519.70h3.86M423.06 513.90h3.86M423.06 534.30h3.86M429.36 493.30h3.86M429.36 534.30h3.86M435.66 452.30h3.86M435.66 492.70h3.86M441.97 439.70h3.86M441.97 449.70h3.86M454.57 436.70h3.86M454.57 440.30h3.86M460.87 436.70h3.86M460.87 474.70h3.86M467.18 475.30h3.86M467.18 510.90h3.86M473.48 512.70h3.86M473.48 517.20h3.86M479.78 513.30h3.86M479.78 517.20h3.86M486.09 508.30h3.86M486.09 512.50h3.86M492.39 508.50h3.86M492.39 522.70h3.86M498.69 523.30h3.86M498.69 545.50h3.86M504.99 546.90h3.86M504.99 552.70h3.86M511.30 539.70h3.86M511.30 552.10h3.86M523.90 526.50h3.86M523.90 540.70h3.86M530.21 526.50h3.86M530.21 532.30h3.86M536.51 532.80h3.86M536.51 556.30h3.86M542.81 557.30h3.86M542.81 593.70h3.86M549.11 581.70h3.86M549.11 593.70h3.86M561.72 572.70h3.86M561.72 582.30h3.86M568.02 569.90h3.86M568.02 572.30h3.86M574.32 545.70h3.86M574.32 569.30h3.86M580.63 545.70h3.86M580.63 595.10h3.86M586.93 595.70h3.86M586.93 618.70h3.86M593.23 606.30h3.86M593.23 608.70h3.86M599.54 583.30h3.86M599.54 608.30h3.86M605.84 560.30h3.86M605.84 583.10h3.86M612.14 560.30h3.86M612.14 563.70h3.86M618.44 520.30h3.86M618.44 563.70h3.86M631.05 513.90h3.86M631.05 519.70h3.86M637.35 513.90h3.86M637.35 519.10h3.86M643.66 487.90h3.86M643.66 519.10h3.86M649.96 444.30h3.86M649.96 486.70h3.86M656.26 443.70h3.86M656.26 467.30h3.86M668.87 457.90h3.86M668.87 467.90h3.86M675.17 457.90h3.86M675.17 460.70h3.86M681.47 461.30h3.86M681.47 474.70h3.86M687.78 475.30h3.86M687.78 505.30h3.86M694.08 501.30h3.86M694.08 505.70h3.86M700.38 500.70h3.86M700.38 531.20h3.86M706.68 525.70h3.86M706.68 530.10h3.86M712.99 524.90h3.86M712.99 533.10h3.86M719.29 533.70h3.86M719.29 554.10h3.86M725.59 554.70h3.86M725.59 576.10h3.86M731.89 557.30h3.86M731.89 576.10h3.86M738.20 557.30h3.86M738.20 567.70h3.86M750.80 561.30h3.86M750.80 569.10h3.86M757.11 543.90h3.86M757.11 560.30h3.86M763.41 543.90h3.86M763.41 566.10h3.86M769.71 554.90h3.86M769.71 566.10h3.86M776.01 554.90h3.86M776.01 567.10h3.86M782.32 554.90h3.86M782.32 570.70h3.86M788.62 541.70h3.86M788.62 554.30h3.86M794.92 527.70h3.86M794.92 541.10h3.86M801.23 492.70h3.86M801.23 526.70h3.86M807.53 492.70h3.86M807.53 556.70h3.86M813.83 541.30h3.86M813.83 556.70h3.86M832.74 544.70h3.86M832.74 566.10h3.86M839.04 566.70h3.86M839.04 576.30h3.86M845.35 539.90h3.86M845.35 576.30h3.86M851.65 539.90h3.86M851.65 549.70h3.86M857.95 550.30h3.86M857.95 552.70h3.86M864.25 553.30h3.86M864.25 567.10h3.86M870.56 553.30h3.86M870.56 567.10h3.86M876.86 552.70h3.86M876.86 567.10h3.86M883.16 516.70h3.86M883.16 566.70h3.86M889.46 516.70h3.86M889.46 530.30h3.86M902.07 515.70h3.86M902.07 529.70h3.86M908.37 479.90h3.86M908.37 515.10h3.86M914.68 479.90h3.86M914.68 516.30h3.86M920.98 517.30h3.86M920.98 555.10h3.86M927.28 543.90h3.86M927.28 555.10h3.86M933.58 542.90h3.86M933.58 548.70h3.86M939.89 542.90h3.86M939.89 555.10h3.86M946.19 550.30h3.86M946.19 555.10h3.86M952.49 550.30h3.86M952.49 554.30h3.86M958.80 541.70h3.86M958.80 554.10h3.86M965.10 537.70h3.86M965.10 541.10h3.86M971.40 516.70h3.86M971.40 539.70h3.86M977.70 486.30h3.86M977.70 515.70h3.86M990.31 444.70h3.86M990.31 487.30h3.86M996.61 444.70h3.86M996.61 469.10h3.86M1002.92 466.70h3.86M1002.92 469.10h3.86M1009.22 447.90h3.86M1009.22 467.30h3.86M1015.52 447.90h3.86M1015.52 463.30h3.86M1021.82 464.70h3.86M1021.82 515.70h3.86M1028.13 479.30h3.86M1028.13 515.70h3.86M1034.43 479.30h3.86M1034.43 487.30h3.86M1040.73 488.30h3.86M1040.73 506.10h3.86M1047.03 508.70h3.86M1047.03 511.10h3.86M1053.34 502.90h3.86M1053.34 511.10h3.86M1065.94 490.30h3.86M1065.94 500.10h3.86M1072.25 437.70h3.86M1072.25 489.70h3.86M1078.55 437.70h3.86M1078.55 444.10h3.86M1084.85 439.70h3.86M1084.85 445.10h3.86M1091.15 405.30h3.86M1091.15 439.10h3.86M1097.46 405.30h3.86M1097.46 444.10h3.86M1103.76 428.90h3.86M1103.76 444.10h3.86M1110.06 428.90h3.86M1110.06 486.70h3.86M1116.37 487.30h3.86M1116.37 493.30h3.86M1122.67 493.70h3.86M1122.67 503.70h3.86M1128.97 504.70h3.86M1128.97 508.70h3.86M1135.27 492.70h3.86M1135.27 508.10h3.86M1141.58 484.70h3.86M1141.58 492.10h3.86M1147.88 477.70h3.86M1147.88 484.10h3.86M1160.49 461.30h3.86M1160.49 474.10h3.86M1166.79 452.70h3.86M1166.79 460.30h3.86M1173.09 451.70h3.86M1173.09 466.70h3.86M1179.39 448.70h3.86M1179.39 466.70h3.86M1185.70 402.90h3.86M1185.70 448.10h3.86M1192.00 402.90h3.86M1192.00 428.20h3.86M1198.30 427.30h3.86M1198.30 430.90h3.86M1210.91 421.30h3.86M1210.91 426.70h3.86M1217.21 398.30h3.86M1217.21 420.70h3.86M1223.51 362.70h3.86M1223.51 396.70h3.86M1229.82 363.70h3.86M1229.82 367.10h3.86M1236.12 352.70h3.86M1236.12 368.30h3.86M1242.42 352.70h3.86M1242.42 371.70h3.86M1248.72 325.90h3.86M1248.72 371.70h3.86M1261.33 328.30h3.86M1261.33 358.30h3.86M1267.63 354.30h3.86M1267.63 358.30h3.86M1273.94 350.90h3.86M1273.94 356.10h3.86M1280.24 350.90h3.86M1280.24 359.70h3.86M1286.54 360.70h3.86M1286.54 374.10h3.86M1292.84 354.70h3.86M1292.84 374.10h3.86M1305.45 356.30h3.86M1305.45 384.10h3.86M1324.36 348.70h3.86M1324.36 380.30h3.86M1336.96 328.30h3.86M1336.96 345.10h3.86M1343.27 328.30h3.86M1343.27 335.30h3.86M1349.57 342.30h3.86M1349.57 356.10h3.86M1355.87 320.90h3.86M1355.87 341.70h3.86M1362.17 302.90h3.86M1362.17 320.30h3.86M1368.48 303.70h3.86M1368.48 345.30h3.86M1374.78 324.30h3.86M1374.78 345.30h3.86M1381.08 314.70h3.86M1381.08 323.30h3.86M1387.39 305.90h3.86M1387.39 318.10h3.86M1393.69 305.90h3.86M1393.69 332.30h3.86M1399.99 318.70h3.86M1399.99 332.30h3.86M1406.29 318.30h3.86M1406.29 323.30h3.86M1412.60 239.30h3.86M1412.60 323.30h3.86M1418.90 227.70h3.86M1418.90 237.70h3.86M1425.20 222.70h3.86M1425.20 225.10h3.86M1431.51 213.30h3.86M1431.51 222.10h3.86M1437.81 213.30h3.86M1437.81 231.30h3.86M1444.11 150.90h3.86M1444.11 231.30h3.86M1450.41 150.90h3.86M1450.41 170.70h3.86M1456.72 171.70h3.86M1456.72 179.30h3.86M1469.32 168.30h3.86M1469.32 181.70h3.86M1475.63 158.90h3.86M1475.63 167.70h3.86M1481.93 158.90h3.86M1481.93 209.30h3.86M1488.23 124.30h3.86M1488.23 209.30h3.86M1494.53 124.30h3.86M1494.53 150.10h3.86M1500.84 131.30h3.86M1500.84 155.10h3.86M1507.14 131.30h3.86M1507.14 148.10h3.86M1519.74 129.70h3.86M1519.74 145.70h3.86M1526.05 107.70h3.86M1526.05 130.10h3.86M1532.35 85.70h3.86M1532.35 107.30h3.86M1538.65 48.70h3.86M1538.65 99.10h3.86M1544.96 30.70h3.86M1544.96 48.10h3.86" fill="none" stroke-width="0.75"/>
<path d="M284.40 430.60h3.86M284.40 432.80h3.86M290.70 433.30h3.86M290.70 435.50h3.86M517.60 540.10h3.86M517.60 542.30h3.86M662.56 466.90h3.86M662.56 469.10h3.86M744.50 567.40h3.86M744.50 569.60h3.86M820.13 545.30h3.86M820.13 547.50h3.86M895.77 529.60h3.86M895.77 531.80h3.86M984.01 485.70h3.86M984.01 487.90h3.86M1059.64 500.30h3.86M1059.64 502.50h3.86M1255.03 326.10h3.86M1255.03 328.30h3.86M1299.15 354.30h3.86M1299.15 356.50h3.86M1311.75 383.10h3.86M1311.75 385.30h3.86M1318.06 380.70h3.86M1318.06 382.90h3.86M1330.66 346.20h3.86M1330.66 348.40h3.86M1513.44 146.10h3.86M1513.44 148.30h3.86" fill="none" stroke-width="0.55" stroke-opacity="0.85"/>
</g>
<g fill="#333">
<rect x="1550.4" y="26.84" width="1.7" height="1"/>
<rect x="1550.4" y="64.95" width="1.7" height="1"/>
<rect x="1550.4" y="103.97" width="1.7" height="1"/>
<rect x="1550.4" y="142.53" width="1.7" height="1"/>
<rect x="1550.4" y="181.09" width="1.7" height="1"/>
<rect x="1550.4" y="219.66" width="1.7" height="1"/>
<rect x="1550.4" y="258.22" width="1.7" height="1"/>
<rect x="1550.4" y="296.78" width="1.7" height="1"/>
<rect x="1550.4" y="335.09" width="1.7" height="1"/>
<rect x="1550.4" y="373.91" width="1.7" height="1"/>
<rect x="1550.4" y="412.47" width="1.7" height="1"/>
<rect x="1550.4" y="451.03" width="1.7" height="1"/>
<rect x="1550.4" y="489.60" width="1.7" height="1"/>
<rect x="1550.4" y="528.16" width="1.7" height="1"/>
<rect x="1550.4" y="566.72" width="1.7" height="1"/>
<rect x="1550.4" y="605.29" width="1.7" height="1"/>
<rect x="1550.4" y="643.85" width="1.7" height="1"/>
<rect x="1550.4" y="682.41" width="1.7" height="1"/>
<rect x="1550.4" y="720.97" width="1.7" height="1"/>
</g>
<g font-size="10.4" fill="#1c1c1c">
<text x="1555.7" y="30.89" textLength="35.4" lengthAdjust="spacingAndGlyphs">1.17070</text>
<text x="1555.7" y="69.00" textLength="35.4" lengthAdjust="spacingAndGlyphs">1.16720</text>
<text x="1555.7" y="108.02" textLength="35.4" lengthAdjust="spacingAndGlyphs">1.16370</text>
<text x="1555.7" y="146.58" textLength="35.4" lengthAdjust="spacingAndGlyphs">1.16020</text>
<text x="1555.7" y="185.14" textLength="35.4" lengthAdjust="spacingAndGlyphs">1.15670</text>
<text x="1555.7" y="223.71" textLength="35.4" lengthAdjust="spacingAndGlyphs">1.15320</text>
<text x="1555.7" y="262.27" textLength="35.4" lengthAdjust="spacingAndGlyphs">1.14970</text>
<text x="1555.7" y="300.83" textLength="35.4" lengthAdjust="spacingAndGlyphs">1.14620</text>
<text x="1555.7" y="339.14" textLength="35.4" lengthAdjust="spacingAndGlyphs">1.14270</text>
<text x="1555.7" y="377.96" textLength="35.4" lengthAdjust="spacingAndGlyphs">1.13920</text>
<text x="1555.7" y="416.52" textLength="35.4" lengthAdjust="spacingAndGlyphs">1.13570</text>
<text x="1555.7" y="455.08" textLength="35.4" lengthAdjust="spacingAndGlyphs">1.13220</text>
<text x="1555.7" y="493.65" textLength="35.4" lengthAdjust="spacingAndGlyphs">1.12870</text>
<text x="1555.7" y="532.21" textLength="35.4" lengthAdjust="spacingAndGlyphs">1.12520</text>
<text x="1555.7" y="570.77" textLength="35.4" lengthAdjust="spacingAndGlyphs">1.12170</text>
<text x="1555.7" y="609.34" textLength="35.4" lengthAdjust="spacingAndGlyphs">1.11820</text>
<text x="1555.7" y="647.90" textLength="35.4" lengthAdjust="spacingAndGlyphs">1.11470</text>
<text x="1555.7" y="686.46" textLength="35.4" lengthAdjust="spacingAndGlyphs">1.11120</text>
<text x="1555.7" y="725.02" textLength="35.4" lengthAdjust="spacingAndGlyphs">1.10770</text>
</g>
<g fill="#000">
<rect x="2.25" y="736.5" width="0.9" height="3.2"/>
<rect x="77.88" y="736.5" width="0.9" height="3.2"/>
<rect x="153.52" y="736.5" width="0.9" height="3.2"/>
<rect x="229.15" y="736.5" width="0.9" height="3.2"/>
<rect x="304.79" y="736.5" width="0.9" height="3.2"/>
<rect x="380.42" y="736.5" width="0.9" height="3.2"/>
<rect x="456.05" y="736.5" width="0.9" height="3.2"/>
<rect x="531.69" y="736.5" width="0.9" height="3.2"/>
<rect x="607.32" y="736.5" width="0.9" height="3.2"/>
<rect x="682.96" y="736.5" width="0.9" height="3.2"/>
<rect x="758.59" y="736.5" width="0.9" height="3.2"/>
<rect x="834.22" y="736.5" width="0.9" height="3.2"/>
<rect x="909.86" y="736.5" width="0.9" height="3.2"/>
<rect x="985.49" y="736.5" width="0.9" height="3.2"/>
<rect x="1061.13" y="736.5" width="0.9" height="3.2"/>
<rect x="1136.76" y="736.5" width="0.9" height="3.2"/>
<rect x="1212.39" y="736.5" width="0.9" height="3.2"/>
<rect x="1288.03" y="736.5" width="0.9" height="3.2"/>
<rect x="1363.66" y="736.5" width="0.9" height="3.2"/>
<rect x="1439.30" y="736.5" width="0.9" height="3.2"/>
<rect x="1514.93" y="736.5" width="0.9" height="3.2"/>
</g>
<g font-size="10.4" fill="#1c1c1c" transform="scale(0.953,1)">
<text x="1.89" y="749.2">29 May 2020</text>
<text x="81.25" y="749.2">2 Jun 08:00</text>
<text x="160.62" y="749.2">4 Jun 08:00</text>
<text x="239.98" y="749.2">8 Jun 08:00</text>
<text x="319.35" y="749.2">10 Jun 08:00</text>
<text x="398.71" y="749.2">12 Jun 08:00</text>
<text x="478.07" y="749.2">16 Jun 08:00</text>
<text x="557.44" y="749.2">18 Jun 08:00</text>
<text x="636.80" y="749.2">22 Jun 08:00</text>
<text x="716.17" y="749.2">24 Jun 08:00</text>
<text x="795.53" y="749.2">26 Jun 08:00</text>
<text x="874.89" y="749.2">30 Jun 08:00</text>
<text x="954.26" y="749.2">2 Jul 08:00</text>
<text x="1033.62" y="749.2">6 Jul 08:00</text>
<text x="1112.99" y="749.2">8 Jul 08:00</text>
<text x="1192.35" y="749.2">10 Jul 08:00</text>
<text x="1271.71" y="749.2">14 Jul 08:00</text>
<text x="1351.08" y="749.2">16 Jul 08:00</text>
<text x="1430.44" y="749.2">20 Jul 08:00</text>
<text x="1509.81" y="749.2">22 Jul 08:00</text>
<text x="1589.17" y="749.2">24 Jul 08:00</text>
</g>
<g stroke="#ff0000" fill="#ff0000">
<line x1="551" y1="665.5" x2="1181.5" y2="516" stroke-width="3.5"/>
<rect x="547.7" y="662.2" width="6.6" height="6.6" stroke="none"/>
<rect x="863.2" y="587.7" width="6.6" height="6.6" stroke="none"/>
<rect x="1178.2" y="512.7" width="6.6" height="6.6" stroke="none"/>
</g>
<g font-size="22.7" fill="#ff0000">
<path d="M763 0H583V1147Q518 1085 412.5 1023T223 930V1104Q373 1174.5 485.5 1275T645 1470H763Z" fill="#ff0000" transform="translate(834.319,631) scale(0.011902,-0.011020)"/>
<text x="884.6" y="627.9">2</text>
<text x="954.2" y="600.3">3</text>
<text x="1136.6" y="561.4">4</text>
</g>
<path d="M4.8 12.2 L8.5 8.2 L12.2 12.2 Z" fill="#000"/>
<g font-size="10.1" fill="#1c1c1c">
<text x="16.6" y="14.2" textLength="49.6" lengthAdjust="spacingAndGlyphs">EURUSD,H4</text>
<text x="73.8" y="14.2" textLength="34.8" lengthAdjust="spacingAndGlyphs">1.21604</text>
<text x="113.5" y="14.2" textLength="34.8" lengthAdjust="spacingAndGlyphs">1.21681</text>
<text x="153.0" y="14.2" textLength="34.8" lengthAdjust="spacingAndGlyphs">1.21538</text>
<text x="191.6" y="14.2" textLength="34.8" lengthAdjust="spacingAndGlyphs">1.21651</text>
</g>
<g>
<rect x="3.2" y="19.9" width="201.6" height="59.1" fill="#fff"/>
<rect x="5" y="40.9" width="98" height="38.1" fill="url(#gp)"/>
<rect x="105.2" y="40.9" width="96.7" height="38.1" fill="url(#gp)"/>
<rect x="5" y="19.9" width="46.8" height="21.4" fill="url(#gb)"/>
<rect x="155.4" y="19.9" width="46.5" height="21.4" fill="url(#gb)"/>
<rect x="5" y="19.9" width="46.8" height="0.9" fill="#2a2ad0"/>
<rect x="155.4" y="19.9" width="46.5" height="0.9" fill="#2a2ad0"/>
<rect x="7.9" y="40.9" width="41" height="0.9" fill="#7676ff"/>
<rect x="158.2" y="40.9" width="41" height="0.9" fill="#7676ff"/>
<rect x="7.9" y="40.1" width="41" height="0.8" fill="#2020b8"/>
<rect x="158.2" y="40.1" width="41" height="0.8" fill="#2020b8"/>
<rect x="53.4" y="20.3" width="100.4" height="18.3" fill="#fff" stroke="#c4c4c4" stroke-width="0.8"/>
<rect x="53.8" y="20.7" width="18.5" height="17.6" fill="#e4e4e4" stroke="#b8b8b8" stroke-width="0.7"/>
<rect x="134.6" y="20.7" width="18.9" height="17.6" fill="#e4e4e4" stroke="#b8b8b8" stroke-width="0.7"/>
<path d="M60.5 28.3 L66.3 28.3 L63.4 31.5 Z" fill="#000"/>
<path d="M140.8 30.6 L146.8 30.6 L143.8 27.4 Z" fill="#000"/>
<path d="M763 0H583V1147Q518 1085 412.5 1023T223 930V1104Q373 1174.5 485.5 1275T645 1470H763Z" fill="#111" transform="translate(108.913,34) scale(0.006143,-0.005850)"/>
<text x="115.2" y="34" font-size="12" fill="#111" textLength="14.8" lengthAdjust="spacingAndGlyphs">.00</text>
<text x="15.8" y="35.1" font-size="12.4" fill="#fff" textLength="23.8" lengthAdjust="spacingAndGlyphs">SELL</text>
<text x="168.2" y="35.1" font-size="12.4" fill="#fff" textLength="21" lengthAdjust="spacingAndGlyphs">BUY</text>
<g fill="#fff">
<path d="M806 0H525V1059Q371 915 162 846V1101Q272 1137 401 1237.5T578 1472H806Z" fill="#fff" stroke="#fff" stroke-width="60" transform="translate(19.626,71) scale(0.006543,-0.005842)"/>
<text x="26.7" y="71" font-size="12" font-weight="bold" stroke="#fff" stroke-width="0.35" textLength="10" lengthAdjust="spacingAndGlyphs">.2</text>
<path d="M806 0H525V1059Q371 915 162 846V1101Q272 1137 401 1237.5T578 1472H806Z" fill="#fff" stroke="#fff" stroke-width="60" transform="translate(37.326,71) scale(0.006543,-0.005842)"/>
<text x="47.3" y="71.1" font-size="31.6" textLength="30.8" lengthAdjust="spacingAndGlyphs">65</text>
<path d="M806 0H525V1059Q371 915 162 846V1101Q272 1137 401 1237.5T578 1472H806Z" fill="#fff" stroke="#fff" stroke-width="61" transform="translate(82.311,56.5) scale(0.006562,-0.005707)"/>
<path d="M806 0H525V1059Q371 915 162 846V1101Q272 1137 401 1237.5T578 1472H806Z" fill="#fff" stroke="#fff" stroke-width="60" transform="translate(118.826,71) scale(0.006543,-0.005842)"/>
<text x="125.9" y="71" font-size="12" font-weight="bold" stroke="#fff" stroke-width="0.35" textLength="10" lengthAdjust="spacingAndGlyphs">.2</text>
<path d="M806 0H525V1059Q371 915 162 846V1101Q272 1137 401 1237.5T578 1472H806Z" fill="#fff" stroke="#fff" stroke-width="60" transform="translate(136.526,71) scale(0.006543,-0.005842)"/>
<text x="147.3" y="71.1" font-size="31.6" textLength="30.8" lengthAdjust="spacingAndGlyphs">66</text>
<text x="181.8" y="56.5" font-size="11.8" font-weight="bold" stroke="#fff" stroke-width="0.3">7</text>
</g>
</g>
</svg></body></html>
